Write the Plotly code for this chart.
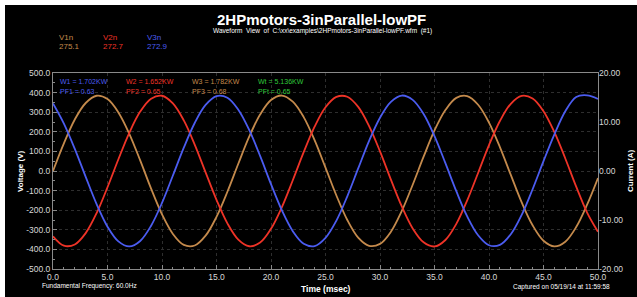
import plotly.graph_objects as go

# ---- data ----
time_ms = list(range(0, 51))

v1n = [0, 141, 263, 347, 384, 367, 299, 190, 54, -90, -221, -321, -377, -380, -330,
       -234, -106, 37, 175, 288, 362, 385, 354, 275, 157, 17, -125, -250, -340, -382,
       -372, -310, -204, -70, 73, 207, 311, 373, 382, 338, 247, 122, -20, -160, -277,
       -356, -385, -361, -286, -172, -36]

v2n = [-333, -381, -375, -317, -215, -83, 60, 195, 303, 369, 384, 345, 258, 135, -7,
       -147, -267, -350, -384, -365, -295, -184, -47, 96, 226, 325, 378, 379, 327, 229,
       100, -44, -181, -293, -364, -385, -352, -270, -150, -10, 132, 255, 343, 383, 370,
       305, 198, 64, -80, -212, -310]

v3n = [345, 242, 113, -30, -169, -284, -359, -385, -357, -279, -163, -23, 119, 245, 337,
       382, 374, 313, 210, 77, -67, -201, -307, -371, -383, -341, -253, -129, 13, 154,
       272, 353, 385, 363, 291, 178, 40, -103, -232, -328, -379, -377, -323, -224, -93,
       50, 187, 305, 378, 386, 368]

x_ticks = [0, 5, 10, 15, 20, 25, 30, 35, 40, 45, 50]
v_ticks = [500, 400, 300, 200, 100, 0, -100, -200, -300, -400, -500]
i_ticks = [20, 10, 0, -10, -20]

rms_labels = ["V1n", "V2n", "V3n"]
rms_values = ["275.1", "272.7", "272.9"]
power_labels = ["W1 = 1.702KW", "W2 = 1.652KW", "W3 = 1.782KW", "Wt = 5.136KW"]
pf_labels = ["PF1 = 0.63", "PF2 = 0.65", "PF3 = 0.68", "PFt = 0.65"]

# ---- styles ----
C_ORANGE = "#c48a4c"
C_RED = "#ee3327"
C_BLUE = "#4b5cf0"
C_GREEN = "#2fc93a"
FONT = "Liberation Sans, Arial, sans-serif"

W, H = 637, 297
L, R, T, B = 53, 598, 73, 269


def px(x):
    return (x - L) / (R - L)


def py(y):
    return (B - y) / (B - T)


fig = go.Figure()
for ys, col in [(v1n, C_ORANGE), (v2n, C_RED), (v3n, C_BLUE)]:
    fig.add_trace(go.Scatter(x=time_ms, y=ys, mode="lines", line=dict(color=col, width=1.8, shape="spline"),
                             showlegend=False, hoverinfo="skip"))
# empty trace to attach the current axis
fig.add_trace(go.Scatter(x=[None], y=[None], yaxis="y2", mode="lines", showlegend=False))

annotations = []


def txt(x, y, s, color="#ffffff", size=8, bold=False, xanchor="left", yanchor="middle", angle=0):
    annotations.append(dict(x=px(x), y=py(y), xref="paper", yref="paper", text=("<b>%s</b>" % s) if bold else s,
                            showarrow=False, xanchor=xanchor, yanchor=yanchor, textangle=angle,
                            font=dict(color=color, size=size, family=FONT)))


txt(321, 20, "2HPmotors-3inParallel-lowPF", size=15, bold=True, xanchor="center")
txt(322, 31, "Waveform  View  of  C:\\xx\\examples\\2HPmotors-3inParallel-lowPF.wfm  (#1)", size=6.5, xanchor="center")

rms_cols = [C_ORANGE, C_RED, C_BLUE]
for i, (lab, val) in enumerate(zip(rms_labels, rms_values)):
    x0 = 57 + i * 44
    txt(x0, 38, lab, color=rms_cols[i], size=8)
    txt(x0, 47, val, color=rms_cols[i], size=8)

pw_cols = [C_BLUE, C_RED, C_ORANGE, C_GREEN]
for i, (w, pf) in enumerate(zip(power_labels, pf_labels)):
    x0 = 58 + i * 66
    txt(x0, 81, w, color=pw_cols[i], size=7)
    txt(x0, 91, pf, color=pw_cols[i], size=7)

txt(20, 171, "Voltage (V)", size=8, bold=True, xanchor="center", angle=-90)
txt(630, 171, "Current (A)", size=8, bold=True, xanchor="center", angle=-90)
txt(326, 289, "Time (msec)", size=8.5, bold=True, xanchor="center")
txt(40, 286, "Fundamental Frequency: 60.0Hz", size=6.5)
txt(612, 287, "Captured on 05/19/14 at 11:59:58", size=6.5, xanchor="right")

tickfont = dict(color="#d8d8d8", size=8.5, family=FONT)
axis_common = dict(showline=True, linecolor="#8a8a8a", linewidth=1, mirror=True, zeroline=False,
                   ticks="inside", ticklen=4, tickcolor="#8a8a8a", tickfont=tickfont,
                   showgrid=True, gridcolor="#2e2e2e", gridwidth=1, griddash="dot")

shapes = [
    dict(type="rect", xref="paper", yref="paper", x0=px(0), x1=px(W), y0=py(5), y1=py(0),
         fillcolor="white", line=dict(width=0), layer="above"),
    dict(type="rect", xref="paper", yref="paper", x0=px(0), x1=px(5), y0=py(H), y1=py(0),
         fillcolor="white", line=dict(width=0), layer="above"),
]

fig.update_layout(
    width=W, height=H,
    margin=dict(l=L, r=W - R, t=T, b=H - B, pad=0),
    paper_bgcolor="black", plot_bgcolor="black",
    showlegend=False,
    font=dict(family=FONT, color="white"),
    xaxis=dict(range=[0, 50], tickvals=x_ticks, ticktext=["%.1f" % v for v in x_ticks],
               minor=dict(dtick=1, ticks="inside", ticklen=2, tickcolor="#8a8a8a", showgrid=False),
               **axis_common),
    yaxis=dict(range=[-500, 500], tickvals=v_ticks, ticktext=["%.1f" % v for v in v_ticks],
               minor=dict(dtick=50, ticks="inside", ticklen=2, tickcolor="#8a8a8a", showgrid=False),
               **axis_common),
    yaxis2=dict(range=[-20, 20], overlaying="y", side="right", tickvals=i_ticks,
                ticktext=["%.2f" % v for v in i_ticks], showline=False, zeroline=False, showgrid=False,
                ticks="", tickfont=tickfont),
    annotations=annotations,
    shapes=shapes,
)

fig.write_html("out.html", config={"displayModeBar": False},
               post_script="document.body.style.margin='0';document.body.style.overflow='hidden';")
